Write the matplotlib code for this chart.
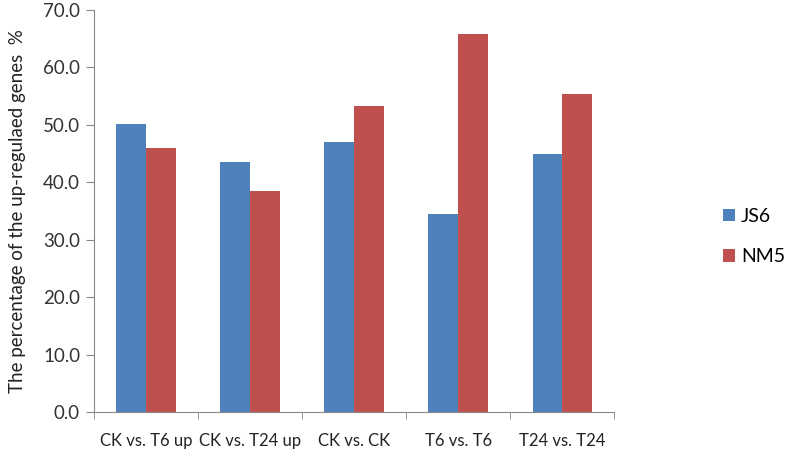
import numpy as np
import matplotlib.pyplot as plt

categories = ["CK vs. T6 up", "CK vs. T24 up", "CK vs. CK", "T6 vs. T6", "T24 vs. T24"]
js6 = [50.1, 43.6, 47.0, 34.4, 44.9]
nm5 = [46.0, 38.5, 53.3, 65.8, 55.4]
yticks = [0, 10, 20, 30, 40, 50, 60, 70]

plt.rcParams["font.family"] = ["Lato", "DejaVu Sans"]

fig = plt.figure(figsize=(7.87, 4.57), dpi=100)
ax = fig.add_axes([0.1194, 0.0985, 0.661, 0.8795])

x = np.arange(len(categories))
w = 0.285
ax.bar(x - w / 2, js6, w, color="#4F81BD", label="JS6")
ax.bar(x + w / 2, nm5, w, color="#C0504D", label="NM5")

ax.set_xlim(-0.5, len(categories) - 0.5)
ax.set_ylim(0, 70)
ax.set_yticks(yticks)
ax.set_yticklabels([f"{v:.1f}" for v in yticks], fontsize=13.5, color="#333333")
ax.set_xticks(x)
ax.set_xticklabels(categories, fontsize=12, color="#222222")
ax.tick_params(axis="x", which="major", length=0, pad=15)
ax.set_xticks(np.arange(-0.5, len(categories)), minor=True)
ax.tick_params(axis="x", which="minor", length=5, color="#888888")
ax.tick_params(axis="y", length=6, color="#888888", pad=4)

for side in ["top", "right"]:
    ax.spines[side].set_visible(False)
for side in ["left", "bottom"]:
    ax.spines[side].set_color("#888888")

ax.set_ylabel("The percentage of the up-regulaed genes  %", fontsize=13.5, color="#222222", labelpad=12)

fig.legend(loc="center left", bbox_to_anchor=(0.897, 0.482), frameon=False, fontsize=14,
           handlelength=0.6, handleheight=0.6, handletextpad=0.3, labelspacing=1.2)

fig.savefig("out.png", dpi=100)
